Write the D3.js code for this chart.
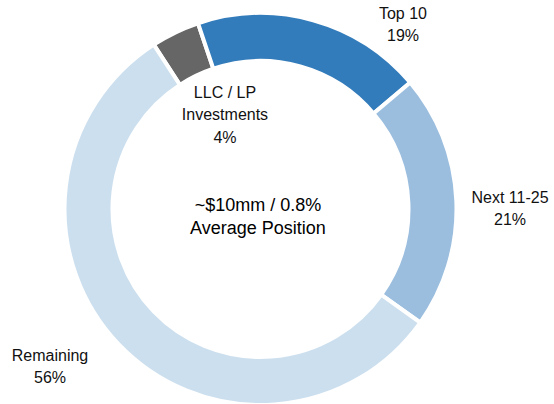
<!DOCTYPE html>
<html><head><meta charset="utf-8">
<script src="https://cdn.jsdelivr.net/npm/d3@7"></script>
<style>html,body{margin:0;padding:0;background:#fff;}svg{display:block;}</style>
</head><body>
<div id="chart"></div>
<script>
const categories = ["LLC / LP Investments", "Top 10", "Next 11-25", "Remaining"];
const values = [4, 19, 21, 56];
const labelLines = [["LLC / LP", "Investments", "4%"], ["Top 10", "19%"], ["Next 11-25", "21%"], ["Remaining", "56%"]];
const colors = ["#666666", "#337CBB", "#9BBEDF", "#CCDFEE"];
const centerText = ["~$10mm / 0.8%", "Average Position"];

const W = 554, H = 404;
const cx = 260.5, cy = 209, rOuter = 196, rInner = 148;
const labelPos = [[225, 92], [403, 13], [510, 197], [50, 355]];
const lineH = 22.5;

const svg = d3.select("#chart").append("svg").attr("width", W).attr("height", H);
const g = svg.append("g").attr("transform", `translate(${cx},${cy})`);

const pie = d3.pie().sort(null).value(d => d)
  .startAngle(-33 * Math.PI / 180).endAngle((360 - 33) * Math.PI / 180);
const arc = d3.arc().innerRadius(rInner).outerRadius(rOuter);

g.selectAll("path").data(pie(values)).join("path")
  .attr("d", arc)
  .attr("fill", (d, i) => colors[i])
  .attr("stroke", "#fff").attr("stroke-width", 4).attr("stroke-linejoin", "miter");

labelLines.forEach((lines, i) => {
  const t = svg.append("text")
    .attr("text-anchor", "middle")
    .attr("font-family", "'Liberation Sans', Arial, sans-serif")
    .attr("font-size", 16).attr("fill", "#111");
  lines.forEach((s, j) => {
    t.append("tspan").attr("x", labelPos[i][0]).attr("y", labelPos[i][1] + j * lineH).attr("dy", "0.35em").text(s);
  });
});

const ct = svg.append("text").attr("text-anchor", "middle")
  .attr("font-family", "'Liberation Sans', Arial, sans-serif")
  .attr("font-size", 18).attr("fill", "#000");
centerText.forEach((s, j) => {
  ct.append("tspan").attr("x", 258).attr("y", 205 + j * 23).attr("dy", "0.35em").text(s);
});
</script>
</body></html>
